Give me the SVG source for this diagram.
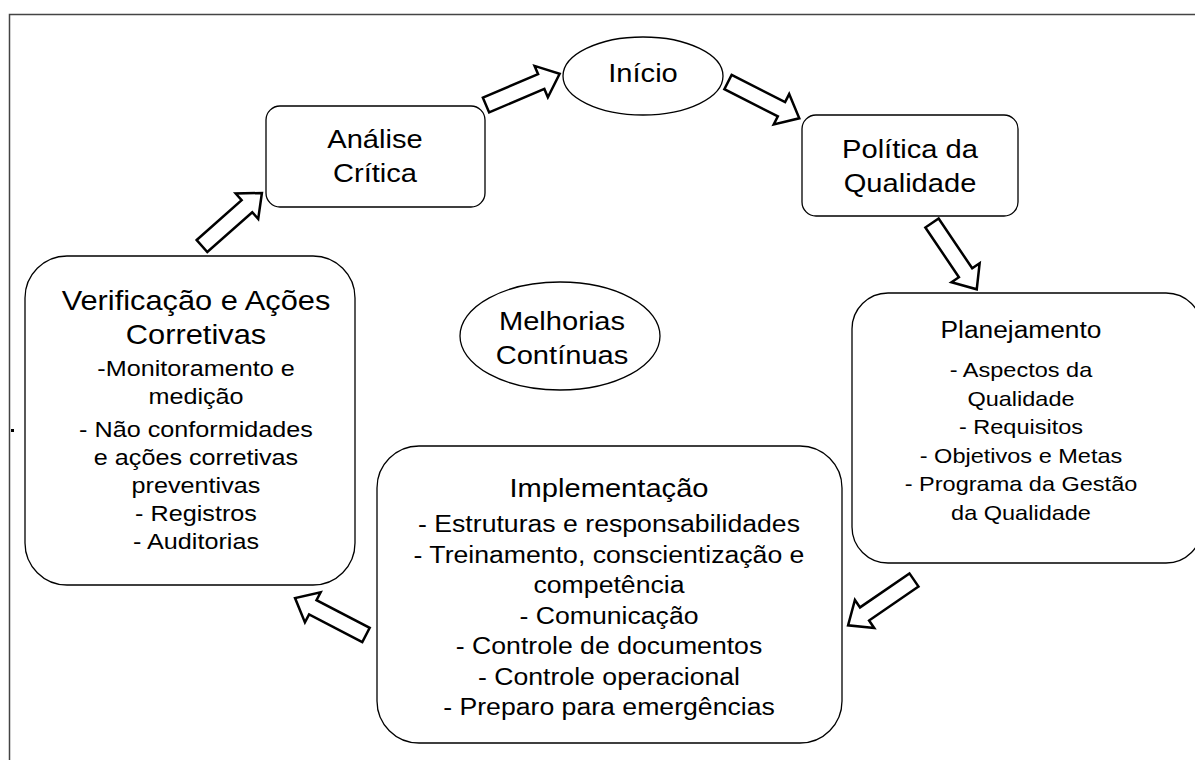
<svg xmlns="http://www.w3.org/2000/svg" xmlns:xlink="http://www.w3.org/1999/xlink" width="1195" height="760" viewBox="0 0 1195 760">
<style>
.box{fill:#fff;stroke:#000;stroke-width:1.3}
.arrow{fill:#fff;stroke:#000;stroke-width:2.5;stroke-linejoin:miter}
.t{font-family:"Liberation Sans",Arial,sans-serif;fill:#000;text-anchor:middle}
.h{font-size:26px}
.i{font-size:23.8px}
.p{font-size:21px}
.v{font-size:22.5px}
</style>
<defs>
<path id="blk" d="M0,-8 L60,-8 L60,-17 L80,0 L60,17 L60,8 L0,8 Z"/>
</defs>
<rect width="1195" height="760" fill="#fff"/>
<path d="M9.5,760 L9.5,14.5 L1195,14.5" fill="none" stroke="#444" stroke-width="1.5"/>
<rect x="11" y="429" width="3" height="3" fill="#000"/>

<g id="connectors">
<use xlink:href="#blk" class="arrow" transform="translate(486,105) rotate(-23)"/>
<use xlink:href="#blk" class="arrow" transform="translate(728,82) rotate(27)"/>
<use xlink:href="#blk" class="arrow" transform="translate(932,223) rotate(56)"/>
<use xlink:href="#blk" class="arrow" transform="translate(914,580) rotate(145.5)"/>
<use xlink:href="#blk" class="arrow" transform="translate(366,635) rotate(207.5)"/>
<use xlink:href="#blk" class="arrow" transform="translate(202,246) rotate(-41.5)"/>
</g>

<g id="inicio">
<ellipse class="box" cx="643" cy="76" rx="80" ry="39"/>
<g transform="translate(643,0) scale(1.12,1)"><text class="t h" x="0" y="82">Início</text></g>
</g>

<g id="analise">
<rect class="box" x="266" y="106" width="219" height="101" rx="14"/>
<g transform="translate(375,0) scale(1.12,1)">
<text class="t h" x="0" y="148">Análise</text>
<text class="t h" x="0" y="182">Crítica</text>
</g>
</g>

<g id="politica">
<rect class="box" x="802" y="115" width="216" height="101" rx="14"/>
<g transform="translate(910,0) scale(1.12,1)">
<text class="t h" x="0" y="158">Política da</text>
<text class="t h" x="0" y="192">Qualidade</text>
</g>
</g>

<g id="melhorias">
<ellipse class="box" cx="560" cy="336" rx="100" ry="54"/>
<g transform="translate(562,0) scale(1.12,1)">
<text class="t h" x="0" y="330">Melhorias</text>
<text class="t h" x="0" y="364">Contínuas</text>
</g>
</g>

<g id="planejamento">
<rect class="box" x="852" y="293" width="350" height="270" rx="36"/>
<g transform="translate(1021,0) scale(1.12,1)">
<text class="t" style="font-size:23.5px" x="0" y="338">Planejamento</text>
<text class="t p" x="0" y="377">- Aspectos da</text>
<text class="t p" x="0" y="406">Qualidade</text>
<text class="t p" x="0" y="434">- Requisitos</text>
<text class="t p" x="0" y="463">- Objetivos e Metas</text>
<text class="t p" x="0" y="491">- Programa da Gestão</text>
<text class="t p" x="0" y="520">da Qualidade</text>
</g>
</g>

<g id="implementacao">
<rect class="box" x="377" y="446" width="465" height="297" rx="42"/>
<g transform="translate(609,0) scale(1.12,1)">
<text class="t h" x="0" y="497">Implementação</text>
<text class="t i" x="0" y="532">- Estruturas e responsabilidades</text>
<text class="t i" x="0" y="563">- Treinamento, conscientização e</text>
<text class="t i" x="0" y="593">competência</text>
<text class="t i" x="0" y="624">- Comunicação</text>
<text class="t i" x="0" y="654">- Controle de documentos</text>
<text class="t i" x="0" y="685">- Controle operacional</text>
<text class="t i" x="0" y="715">- Preparo para emergências</text>
</g>
</g>

<g id="verificacao">
<rect class="box" x="25" y="256" width="330" height="329" rx="42"/>
<g transform="translate(196,0) scale(1.12,1)">
<text class="t" style="font-size:27.5px" x="0" y="310">Verificação e Ações</text>
<text class="t" style="font-size:27.5px" x="0" y="344">Corretivas</text>
<text class="t v" x="0" y="376">-Monitoramento e</text>
<text class="t v" x="0" y="404">medição</text>
<text class="t v" x="0" y="437">- Não conformidades</text>
<text class="t v" x="0" y="465">e ações corretivas</text>
<text class="t v" x="0" y="493">preventivas</text>
<text class="t v" x="0" y="521">- Registros</text>
<text class="t v" x="0" y="549">- Auditorias</text>
</g>
</g>
</svg>
